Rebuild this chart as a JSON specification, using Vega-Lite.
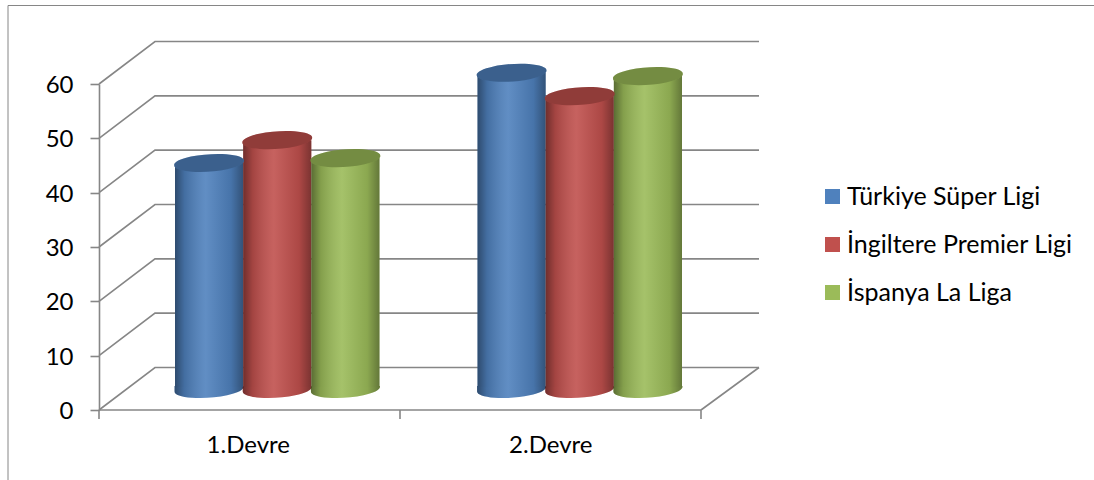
{"$schema":"https://vega.github.io/schema/vega-lite/v6.json","width":602,"height":326,"autosize":"none","padding":{"left":99,"top":84,"right":393,"bottom":70},"background":"white","config":{"view":{"stroke":null},"font":"Lato"},
"datasets":{"bars":[
{"devre":"1.Devre","lig":"Türkiye Süper Ligi","deger":41.6},
{"devre":"1.Devre","lig":"İngiltere Premier Ligi","deger":45.8},
{"devre":"1.Devre","lig":"İspanya La Liga","deger":42.5},
{"devre":"2.Devre","lig":"Türkiye Süper Ligi","deger":58.2},
{"devre":"2.Devre","lig":"İngiltere Premier Ligi","deger":53.9},
{"devre":"2.Devre","lig":"İspanya La Liga","deger":57.6}],
"ticks":[{"t":0},{"t":10},{"t":20},{"t":30},{"t":40},{"t":50},{"t":60}],
"zero":[{"t":0}]},
"layer":[
{"data":{"name":"ticks"},"mark":{"type":"point","shape":"M-301,0l56,-42.5H359","size":4,"filled":false,"stroke":"#868686","strokeWidth":1.6,"opacity":1},"encoding":{"y":{"field":"t","type":"quantitative","scale":{"domain":[0,60],"nice":false},"axis":{"values":[0,10,20,30,40,50,60],"title":null,"grid":false,"domainColor":"#868686","domainWidth":1.6,"tickColor":"#868686","tickWidth":1.6,"tickSize":9,"labelFontSize":24,"labelColor":"black","labelPadding":17,"labelFont":"Lato","labelOffset":1.5}}}},
{"data":{"name":"zero"},"mark":{"type":"rule","color":"#868686","strokeWidth":1.6},"encoding":{"y":{"field":"t","type":"quantitative"}}},
{"data":{"name":"zero"},"mark":{"type":"point","shape":"M-301,0v9M0,0v9M301,0v9M301,0l58,-42.5","size":4,"filled":false,"stroke":"#868686","strokeWidth":1.6,"opacity":1},"encoding":{"y":{"field":"t","type":"quantitative"}}},
{"data":{"name":"zero"},"mark":{"type":"point","shape":"M-392,70V-404.5H694","size":4,"filled":false,"stroke":"#868686","strokeWidth":1,"opacity":1},"encoding":{"y":{"field":"t","type":"quantitative"}}},
{"data":{"name":"bars"},"mark":{"type":"point","shape":"M-34.5,-3L-34.5,2.4A34.6,8.5 -4 1 0 34.5,-2.4L34.5,-3Z","size":4,"filled":true,"opacity":1,"yOffset":-21},"encoding":{"x":{"field":"devre","type":"nominal","scale":{"domain":["1.Devre","2.Devre"],"range":[76,583],"paddingInner":0.324,"paddingOuter":0},"axis":{"title":null,"domain":false,"ticks":false,"labelAngle":0,"labelOffset":-29,"labelFontSize":24,"labelColor":"black","labelPadding":23,"labelFont":"Lato"}},"xOffset":{"field":"lig","type":"nominal","scale":{"domain":["Türkiye Süper Ligi","İngiltere Premier Ligi","İspanya La Liga"]}},"y":{"datum":0,"type":"quantitative"},"color":{"field":"lig","type":"nominal","scale":{"domain":["Türkiye Süper Ligi","İngiltere Premier Ligi","İspanya La Liga"],"range":["#4F81BD","#C0504D","#9BBB59"]},"legend":{"title":null,"orient":"none","legendX":721,"legendY":100,"symbolType":"square","symbolSize":225,"symbolStrokeWidth":0,"labelFontSize":25,"labelColor":"black","labelFont":"Lato","labelLimit":400,"rowPadding":22,"labelOffset":2,"symbolOpacity":1}}}},
{"data":{"name":"bars"},"mark":{"type":"point","shape":"M-34.5,-3L-34.5,2.4A34.6,8.5 -4 1 0 34.5,-2.4L34.5,-3Z","size":4,"filled":true,"opacity":1,"yOffset":-21,"fill":{"gradient":"linear","x1":0,"y1":0,"x2":1,"y2":0,"stops":[{"offset":0,"color":"rgba(0,0,0,0.42)"},{"offset":0.14,"color":"rgba(0,0,0,0.15)"},{"offset":0.45,"color":"rgba(255,255,255,0.1)"},{"offset":0.82,"color":"rgba(0,0,0,0.1)"},{"offset":1,"color":"rgba(0,0,0,0.36)"}]}},"encoding":{"x":{"field":"devre","type":"nominal"},"xOffset":{"field":"lig","type":"nominal"},"y":{"datum":0,"type":"quantitative"}}},
{"data":{"name":"bars"},"mark":{"type":"bar","yOffset":-21,"y2Offset":-23,"cornerRadiusTopLeft":3},"encoding":{"x":{"field":"devre","type":"nominal"},"xOffset":{"field":"lig","type":"nominal"},"y":{"field":"deger","type":"quantitative","stack":null},"y2":{"datum":0},"color":{"field":"lig","type":"nominal"}}},
{"data":{"name":"bars"},"mark":{"type":"bar","yOffset":-21,"y2Offset":-23,"cornerRadiusTopLeft":3,"fill":{"gradient":"linear","x1":0,"y1":0,"x2":1,"y2":0,"stops":[{"offset":0,"color":"rgba(0,0,0,0.42)"},{"offset":0.14,"color":"rgba(0,0,0,0.15)"},{"offset":0.45,"color":"rgba(255,255,255,0.1)"},{"offset":0.82,"color":"rgba(0,0,0,0.1)"},{"offset":1,"color":"rgba(0,0,0,0.36)"}]}},"encoding":{"x":{"field":"devre","type":"nominal"},"xOffset":{"field":"lig","type":"nominal"},"y":{"field":"deger","type":"quantitative","stack":null},"y2":{"datum":0}}},
{"data":{"name":"bars"},"mark":{"type":"point","shape":"M-34.9,2.4A35,8.5 -4 1 1 34.9,-2.4A35,8.5 -4 1 1 -34.9,2.4Z","size":4,"filled":true,"opacity":1,"yOffset":-21},"encoding":{"x":{"field":"devre","type":"nominal"},"xOffset":{"field":"lig","type":"nominal"},"y":{"field":"deger","type":"quantitative"},"color":{"field":"lig","type":"nominal"}}},
{"data":{"name":"bars"},"mark":{"type":"point","shape":"M-34.9,2.4A35,8.5 -4 1 1 34.9,-2.4A35,8.5 -4 1 1 -34.9,2.4Z","size":4,"filled":true,"opacity":0.25,"yOffset":-21,"fill":"black"},"encoding":{"x":{"field":"devre","type":"nominal"},"xOffset":{"field":"lig","type":"nominal"},"y":{"field":"deger","type":"quantitative"}}}
]}
